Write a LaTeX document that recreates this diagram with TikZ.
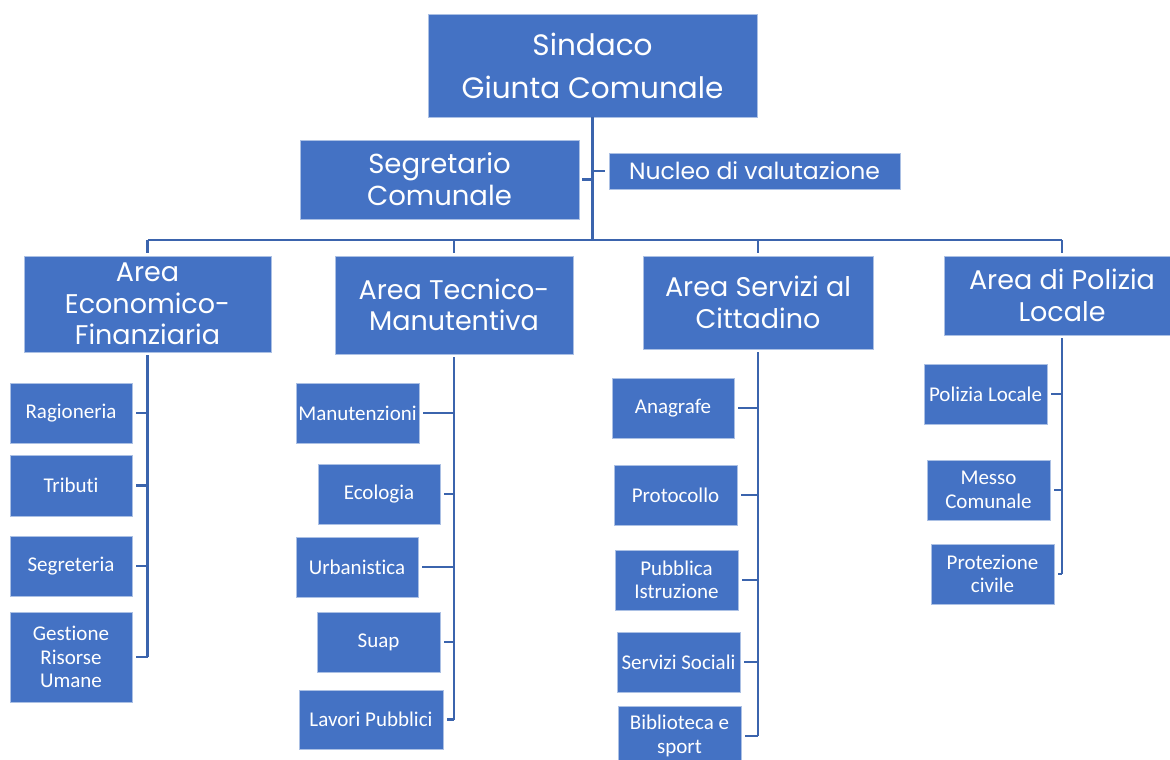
\documentclass[tikz,border=0pt]{standalone}
\usepackage{fontspec}
\newfontfamily\gothic{Poppins}
\newfontfamily\calib{Carlito}[Ligatures=NoCommon]
\definecolor{boxblue}{HTML}{4472C4}
\definecolor{lineblue}{HTML}{3B64AD}
\begin{document}
\begin{tikzpicture}[x=1pt,y=-1pt,
  box/.style={rectangle, fill=boxblue, draw=white!55!boxblue, line width=0.8pt, text=white, align=center, inner sep=2pt},
  bigbox/.style={box, font=\gothic\fontsize{27}{31.5}\selectfont},
  smallbox/.style={box, font=\calib\fontsize{21}{23.5}\selectfont, minimum width=122pt, minimum height=60pt},
  conn/.style={draw=lineblue, line width=2.4pt}]
\useasboundingbox (0,0) rectangle (1170,760);
\clip (0,0) rectangle (1170,760);
% top
\node[bigbox, font=\gothic\fontsize{29.5}{43}\selectfont, minimum width=329pt, minimum height=103pt] (sindaco) at (592.5,65.5) {Sindaco\\Giunta Comunale};
\node[bigbox, font=\gothic\fontsize{27.5}{32}\selectfont, minimum width=279pt, minimum height=79pt] (seg) at (439.5,179.5) {Segretario\\Comunale};
\node[bigbox, font=\gothic\fontsize{23.5}{26}\selectfont, minimum width=291pt, minimum height=36pt] (nuc) at (754.5,171) {Nucleo di valutazione};
% areas
\node[bigbox, minimum width=247pt, minimum height=96pt] (aeco) at (147.5,304) {Area\\Economico-\\Finanziaria};
\node[bigbox, minimum width=238pt, minimum height=98pt] (atec) at (454,305) {Area Tecnico-\\Manutentiva};
\node[bigbox, minimum width=230pt, minimum height=93pt] (aser) at (758,302.5) {Area Servizi al\\Cittadino};
\node[bigbox, minimum width=236pt, minimum height=79pt] (apol) at (1062,295.5) {Area di Polizia\\Locale};
% economico
\node[smallbox] (rag) at (71,413) {Ragioneria};
\node[smallbox, minimum height=61pt] (tri) at (71,485.5) {Tributi};
\node[smallbox] (segr) at (71,566) {Segreteria};
\node[smallbox, minimum height=90pt] (gest) at (71,657) {Gestione\\Risorse\\Umane};
% tecnico
\node[smallbox, minimum width=123pt] (man) at (357.5,413) {Manutenzioni};
\node[smallbox] (eco) at (379,494) {Ecologia};
\node[smallbox] (urb) at (357,567) {Urbanistica};
\node[smallbox, minimum width=123pt] (suap) at (378.5,642) {Suap};
\node[smallbox, minimum width=144pt, minimum height=59pt] (lav) at (371,719.5) {Lavori Pubblici};
% servizi
\node[smallbox] (ana) at (673,408) {Anagrafe};
\node[smallbox, minimum width=123pt] (pro) at (675.5,495) {Protocollo};
\node[smallbox, minimum width=123pt] (pub) at (676.5,580) {Pubblica\\Istruzione};
\node[smallbox, minimum width=123pt] (soc) at (678.5,662) {Servizi Sociali};
\node[smallbox, minimum width=123pt] (bib) at (679.5,736) {Biblioteca e\\sport};
% polizia
\node[smallbox, minimum width=123pt] (pl) at (985.5,394) {Polizia Locale};
\node[smallbox, minimum width=123pt] (messo) at (988.5,490) {Messo\\Comunale};
\node[smallbox, minimum width=123pt] (prot) at (992.5,574) {Protezione\\civile};
% top connectors
\coordinate (bus) at (593,240);
\draw[conn] (sindaco.south) -- (sindaco.south |- bus);
\draw[conn] ([xshift=3pt]seg.east) -- (seg.east -| sindaco.south);
\draw[conn] ([xshift=-4pt]nuc.west) -- (nuc.west -| sindaco.south);
\draw[conn] (aeco.north |- bus) -- (apol.north |- bus);
\foreach \a in {aeco,atec,aser,apol}{
  \draw[conn] (\a.north |- bus) -- ([yshift=3pt]\a.north);
}
% area verticals
\draw[conn] ([yshift=-3pt]aeco.south) -- (aeco.south |- gest.east);
\draw[conn] ([yshift=-3pt]atec.south) -- (atec.south |- lav.east);
\draw[conn] ([yshift=-3pt]aser.south) -- (aser.south |- bib.east);
\draw[conn] ([yshift=-3pt]apol.south) -- (apol.south |- prot.east);
% ticks
\foreach \c in {rag,tri,segr,gest}{\draw[conn] ([xshift=4pt]\c.east) -- (\c.east -| aeco.south);}
\foreach \c in {man,eco,urb,suap,lav}{\draw[conn] ([xshift=4pt]\c.east) -- (\c.east -| atec.south);}
\foreach \c in {ana,pro,pub,soc,bib}{\draw[conn] ([xshift=4pt]\c.east) -- (\c.east -| aser.south);}
\foreach \c in {pl,messo,prot}{\draw[conn] ([xshift=4pt]\c.east) -- (\c.east -| apol.south);}
\end{tikzpicture}
\end{document}
